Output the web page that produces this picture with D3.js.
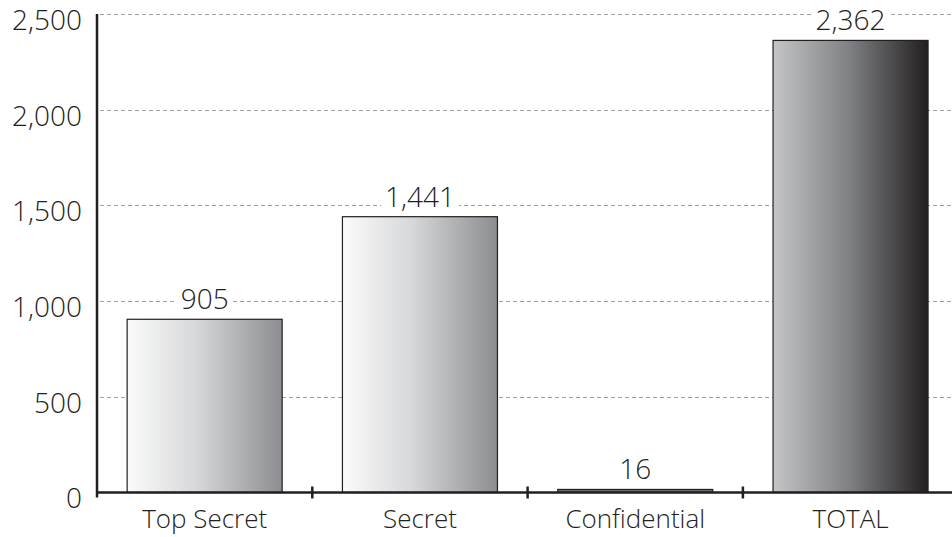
<!DOCTYPE html>
<html>
<head>
<meta charset="utf-8">
<script src="https://cdn.jsdelivr.net/npm/d3@7/dist/d3.min.js"></script>
<style>
  html, body { margin: 0; padding: 0; background: #fff; }
  svg { display: block; font-family: "Open Sans", sans-serif; }
</style>
</head>
<body>
<svg id="chart" width="952" height="537"></svg>
<script>
const categories = ["Top Secret", "Secret", "Confidential", "TOTAL"];
const values = [905, 1441, 16, 2362];
const yTicks = [0, 500, 1000, 1500, 2000, 2500];

const W = 952, H = 537;
const x0 = 97, xEnd = 958.2, yBase = 492.5, yTop = 14;
const svg = d3.select("#chart");
const ink = "#231f20";

const x = d3.scaleBand().domain(categories).range([x0, xEnd]).paddingInner(0).paddingOuter(0);
const y = d3.scaleLinear().domain([0, 2500]).range([yBase, yTop]);

const defs = svg.append("defs");
function grad(id, stops) {
  const g = defs.append("linearGradient").attr("id", id)
    .attr("x1", "0%").attr("x2", "100%").attr("y1", "0%").attr("y2", "0%");
  stops.forEach(s => g.append("stop").attr("offset", s[0]).attr("stop-color", s[1]));
}
grad("gLight", [["0%", "#fbfbfb"], ["45%", "#d6d7d9"], ["100%", "#8b8d90"]]);
grad("gDark", [["0%", "#c4c5c7"], ["50%", "#7d7f82"], ["100%", "#231f20"]]);

// gridlines
svg.append("g").selectAll("line").data(yTicks.filter(d => d > 0)).join("line")
  .attr("x1", x0 + 3).attr("x2", W)
  .attr("y1", d => Math.round(y(d)) + 0.5).attr("y2", d => Math.round(y(d)) + 0.5)
  .attr("stroke", "#a0a0a0").attr("stroke-width", 1).attr("stroke-dasharray", "4,3");

// bars
const barW = x.bandwidth() * 0.72;
const off = (x.bandwidth() - barW) / 2;
svg.append("g").selectAll("rect").data(values).join("rect")
  .attr("x", (d, i) => x(categories[i]) + off)
  .attr("y", d => y(d))
  .attr("width", barW)
  .attr("height", d => yBase - y(d))
  .attr("fill", (d, i) => categories[i] === "TOTAL" ? "url(#gDark)" : (categories[i] === "Confidential" ? "#6d6e70" : "url(#gLight)"))
  .attr("stroke", ink).attr("stroke-width", 1.2);

// value labels with white background
const lab = svg.append("g").selectAll("g").data(values).join("g")
  .attr("transform", (d, i) => `translate(${x(categories[i]) + x.bandwidth() / 2},${y(d) - 10})`);
const fmt = d3.format(",");
lab.each(function (d) {
  const g = d3.select(this);
  const t = g.append("text").attr("text-anchor", "middle")
    .attr("font-size", 28).attr("font-weight", 300).attr("fill", ink).text(fmt(d));
  const bb = t.node().getBBox();
  g.insert("rect", "text").attr("x", bb.x - 4).attr("y", bb.y).attr("width", bb.width + 8).attr("height", bb.height).attr("fill", "#fff");
});

// y axis
const yAxis = d3.axisLeft(y).tickValues(yTicks).tickSize(0).tickPadding(15).tickFormat(fmt);
const gy = svg.append("g").attr("transform", `translate(${x0},0)`).call(yAxis);
gy.select(".domain").remove();
gy.selectAll("text").attr("font-size", 28).attr("font-weight", 300).attr("fill", ink)
  .attr("font-family", "Open Sans, sans-serif").attr("dy", "0.55em");
svg.append("line").attr("x1", x0).attr("x2", x0).attr("y1", yTop).attr("y2", yBase + 5)
  .attr("stroke", ink).attr("stroke-width", 2.5);

// x axis
const xAxis = d3.axisBottom(x).tickSize(0).tickPadding(17);
const gx = svg.append("g").attr("transform", `translate(0,${yBase})`).call(xAxis);
gx.select(".domain").remove();
gx.selectAll("text").attr("font-size", 26).attr("font-weight", 300).attr("fill", ink)
  .attr("font-family", "Open Sans, sans-serif").attr("dy", "0.72em");
svg.append("line").attr("x1", x0).attr("x2", W).attr("y1", yBase).attr("y2", yBase)
  .attr("stroke", ink).attr("stroke-width", 2.5);
// boundary ticks between bands
const bounds = categories.map(c => x(c)).concat([x(categories[3]) + x.step()]);
svg.append("g").selectAll("line").data(bounds.slice(1)).join("line")
  .attr("x1", d => d).attr("x2", d => d).attr("y1", yBase - 6).attr("y2", yBase + 6)
  .attr("stroke", ink).attr("stroke-width", 2.5);
</script>
</body>
</html>
